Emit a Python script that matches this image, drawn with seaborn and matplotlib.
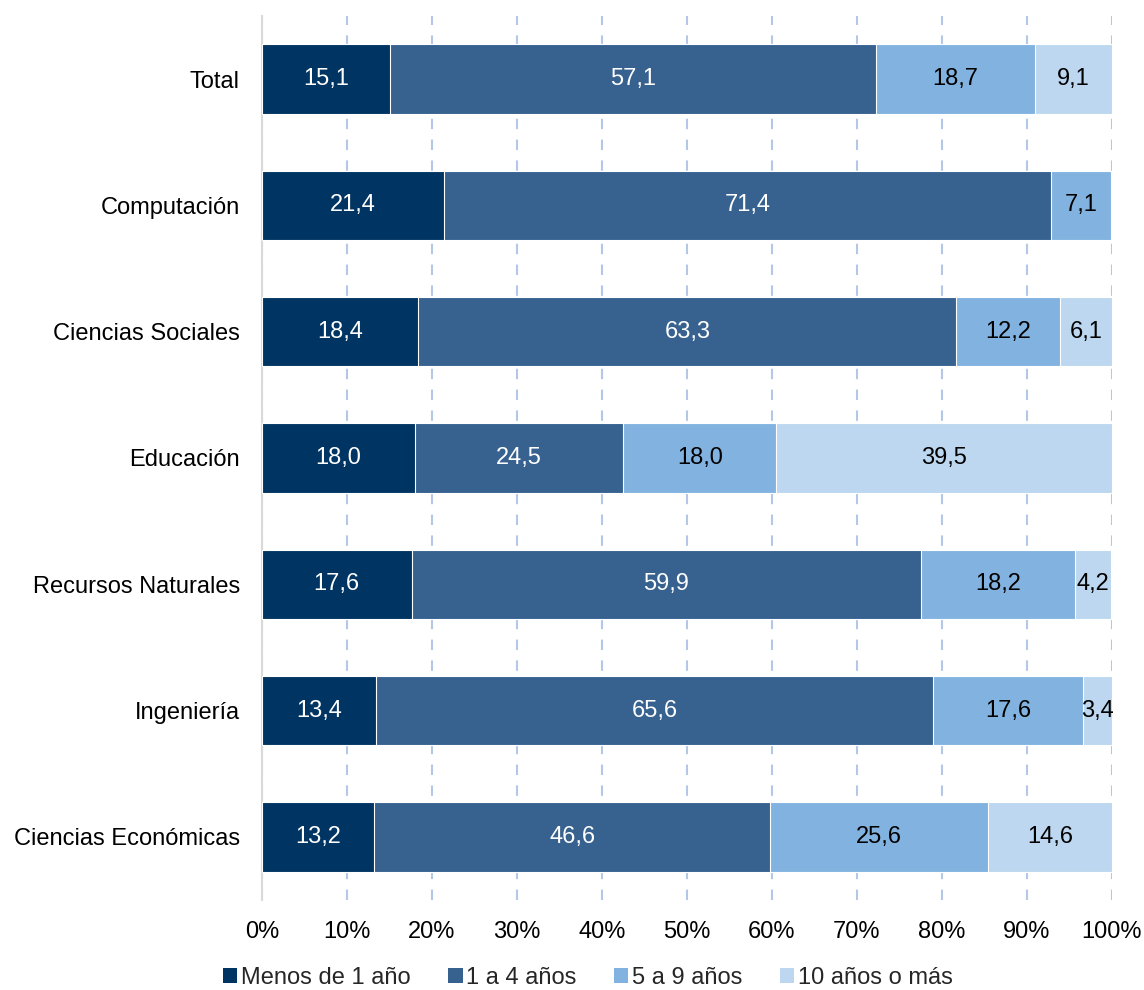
import pandas as pd
import matplotlib.pyplot as plt
import seaborn as sns
from matplotlib.patches import Patch

# Data (percent)
categories = ['Total', 'Computación', 'Ciencias Sociales', 'Educación',
              'Recursos Naturales', 'Ingeniería', 'Ciencias Económicas']
series_names = ['Menos de 1 año', '1 a 4 años', '5 a 9 años', '10 años o más']
menos_1 = [15.1, 21.4, 18.4, 18.0, 17.6, 13.4, 13.2]
de_1_a_4 = [57.1, 71.4, 63.3, 24.5, 59.9, 65.6, 46.6]
de_5_a_9 = [18.7, 7.1, 12.2, 18.0, 18.2, 17.6, 25.6]
mas_10 = [9.1, 0.0, 6.1, 39.5, 4.2, 3.4, 14.6]
x_ticks = [0, 10, 20, 30, 40, 50, 60, 70, 80, 90, 100]

colors = ['#003462', '#37618F', '#82B3E0', '#BCD7EF']
label_colors = ['white', 'white', 'black', 'black']

sns.set_theme(style='white')
plt.rcParams['font.family'] = ['Liberation Sans', 'DejaVu Sans']

df = pd.DataFrame({'cat': categories})
for name, vals in zip(series_names, [menos_1, de_1_a_4, de_5_a_9, mas_10]):
    df[name] = vals
cum = df[series_names].cumsum(axis=1)

fig, ax = plt.subplots(figsize=(11.44, 9.9), dpi=100)
fig.subplots_adjust(left=262 / 1144, right=1112 / 1144, top=1 - 16 / 990, bottom=1 - 900 / 990)

# stacked bars: draw cumulative totals from widest to narrowest
for i in reversed(range(len(series_names))):
    sns.barplot(x=cum[series_names[i]], y=df['cat'], order=categories, orient='h',
                color=colors[i], saturation=1, width=0.55, edgecolor='white',
                linewidth=0.8, ax=ax, zorder=3)

# value labels at segment centres
for i, name in enumerate(series_names):
    for j, v in enumerate(df[name]):
        if v <= 0:
            continue
        center = cum[name].iloc[j] - v / 2
        ax.text(center, j, f'{v:.1f}'.replace('.', ','), ha='center', va='center',
                color=label_colors[i], fontsize=17, zorder=4)

ax.set_xlim(0, 100)
ax.set_ylim(6.5, -0.5)
ax.set_xticks(x_ticks)
ax.set_xticklabels([f'{t}%' for t in x_ticks])
ax.set_xlabel('')
ax.set_ylabel('')
ax.tick_params(axis='both', length=0, labelsize=17, colors='black')
ax.tick_params(axis='y', pad=16)
ax.tick_params(axis='x', pad=15)
ax.xaxis.grid(True, color='#B4C7E7', linestyle=(0, (5, 5)), linewidth=1.5, zorder=0)
ax.set_axisbelow(True)
for s in ['top', 'right', 'bottom']:
    ax.spines[s].set_visible(False)
ax.spines['left'].set_color('#D9D9D9')
ax.spines['left'].set_linewidth(1.5)

handles = [Patch(facecolor=c, edgecolor='none') for c in colors]
fig.legend(handles, series_names, loc='lower center', bbox_to_anchor=(0.514, -0.02),
           ncol=4, frameon=False, fontsize=17, handlelength=0.6, handleheight=0.6,
           handletextpad=0.15, columnspacing=1.6)

plt.savefig('out.png', dpi=100)
